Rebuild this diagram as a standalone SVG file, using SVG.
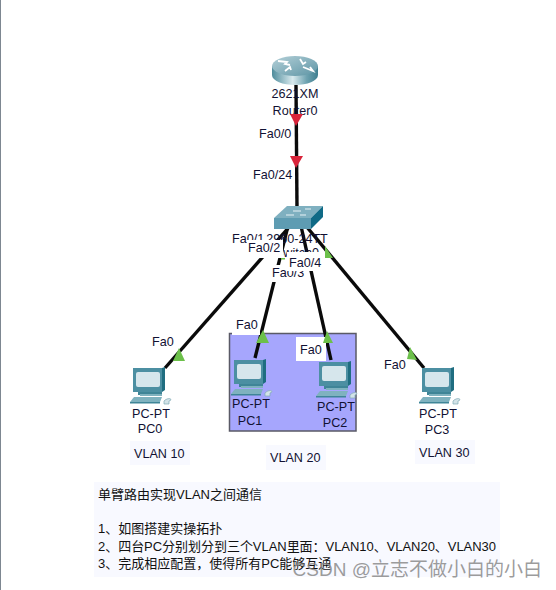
<svg xmlns="http://www.w3.org/2000/svg" width="556" height="590" viewBox="0 0 556 590">
<style>
text{font-family:"Liberation Sans",Arial,"Noto Sans CJK SC",sans-serif;font-size:12.6px;fill:#111133}
.p{font-size:13px;fill:#111}
.pan{fill:#f8f9ff}
.lnk{stroke:#0a0a0a;stroke-width:3.4;fill:none}
.w{fill:#fff}
.red{fill:#d9243a}
.grn{fill:#6cc04a}
.m{text-anchor:middle}
</style>
<defs>
<linearGradient id="rs" x1="0" x2="1" y1="0" y2="0"><stop offset="0" stop-color="#4f8c9c"/><stop offset=".45" stop-color="#d9eaee"/><stop offset=".75" stop-color="#6fa3b1"/><stop offset="1" stop-color="#3f7f90"/></linearGradient>
<linearGradient id="rt" x1="0" x2="1" y1="0" y2="1"><stop offset="0" stop-color="#b4d0d8"/><stop offset="1" stop-color="#5e95a5"/></linearGradient>
<g id="pc">
<rect x="5" y="22" width="24" height="5" fill="#3f8597"/>
<rect x="0" y="0" width="29" height="24" fill="#4c8fa2"/>
<polygon points="29,0 32,-1 32,22 29,24" fill="#1f6d80"/>
<rect x="3" y="4" width="24" height="15" rx="2" fill="#d6e6ec"/>
<rect x="7" y="26" width="22" height="2" fill="#7fb2bf"/>
<polygon points="-3,34 1,29 29,29 27,34" fill="#7fb2bf"/>
<polygon points="-3,34 27,34 27,35.500 -3,35.500" fill="#3f8597"/>
<path d="M31 33c3-3 7-3 7-1l-2 1v3h-5z" fill="#d3e3e8" stroke="#7fa9b5" stroke-width=".7"/>
</g>
</defs>
<rect width="556" height="590" fill="#fff"/>
<rect x="0" y="0" width="1" height="590" fill="#7d8791"/>
<rect class="pan" x="130" y="441" width="60" height="24"/>
<rect class="pan" x="266" y="445" width="60" height="25"/>
<rect class="pan" x="415" y="440" width="60" height="24"/>
<rect class="pan" x="94" y="482" width="406" height="95"/>
<rect id="vlan20-area" x="229.500" y="333.500" width="126.500" height="97.500" fill="#a6a6fd" stroke="#5a5a66" stroke-width="1.500"/>
<g id="connectors">
<path class="lnk" d="M296 85L297 208"/>
<path class="lnk" d="M290 226L165 368"/>
<path class="lnk" d="M288 226L255 358"/>
<path class="lnk" d="M301 226L331 360"/>
<path class="lnk" d="M306 226L424 368"/>
</g>
<g id="Router0">
<path d="M272 66V75C272 81 283 85 295 85S318 81 318 75V66Z" fill="url(#rs)"/>
<ellipse cx="295" cy="66" rx="23" ry="10" fill="url(#rt)"/>
<path d="M278 61l9 1-2 2 5 1M285 71l5-4 1 3M300 59l3 5 3-2M303 67l10 4-3-4" fill="none" stroke="#fff" stroke-width="1.800"/>
<text class="m" x="295" y="98">2621XM</text>
<text class="m" x="295" y="115">Router0</text>
</g>
<g id="Switch0">
<polygon points="274,218 287,206 323,206 311,218" fill="#7fb0c0"/>
<rect x="274" y="218" width="37" height="11" fill="#5e9cb2"/>
<polygon points="311,218 323,206 323,217 311,229" fill="#0f6a86"/>
<path d="M286 215h8M293 211h8M305 209h6M300 215h6" stroke="#e8f2f5" stroke-width="1.200"/>
<text x="232" y="243">Fa0/1</text>
<text class="m" x="297" y="243">2960-24TT</text>
<text class="m" x="297" y="257">Switch0</text>
</g>
<g id="port-labels">
<text x="259" y="138">Fa0/0</text>
<text x="253" y="179">Fa0/24</text>
<polygon class="grn" points="325,246 333,258 325,258"/>
<rect class="grn" x="281" y="258" width="4" height="1.500"/>
<rect class="w" x="270" y="265" width="36" height="17"/>
<text x="272" y="277">Fa0/3</text>
<rect class="w" x="247" y="240" width="36" height="18"/>
<text x="248" y="252">Fa0/2</text>
<rect class="w" x="287" y="252" width="38" height="19"/>
<text x="289" y="267">Fa0/4</text>
<text x="152" y="346">Fa0</text>
<text x="384" y="369">Fa0</text>
<rect class="w" x="232" y="317" width="28" height="18"/>
<text x="236" y="329">Fa0</text>
<rect class="w" x="296" y="337" width="30" height="24"/>
<text x="300" y="354">Fa0</text>
</g>
<g id="link-markers">
<polygon class="red" points="290,114 303,114 296,126"/>
<polygon class="red" points="290,156 303,156 296,168"/>
<polygon class="grn" points="173,361 185,361 179,348"/>
<polygon class="grn" points="256,343 269,343 263,330"/>
<polygon class="grn" points="323,343 333,343 327,331"/>
<polygon class="grn" points="407,359 417,360 410,347"/>
</g>
<g id="PC0"><use href="#pc" x="133" y="368"/><text class="m" x="151" y="418">PC-PT</text><text class="m" x="150" y="433">PC0</text></g>
<g id="PC1"><use href="#pc" x="234" y="360"/><text class="m" x="251" y="408">PC-PT</text><text class="m" x="250" y="425">PC1</text></g>
<g id="PC2"><use href="#pc" x="319" y="362"/><text class="m" x="336" y="411">PC-PT</text><text class="m" x="335" y="427">PC2</text></g>
<g id="PC3"><use href="#pc" x="422" y="368"/><text class="m" x="438" y="418">PC-PT</text><text class="m" x="437" y="434">PC3</text></g>
<text x="134" y="458">VLAN 10</text>
<text x="270" y="462">VLAN 20</text>
<text x="419" y="457">VLAN 30</text>
<g id="notes">
<text class="p" x="98" y="499">单臂路由实现VLAN之间通信</text>
<text class="p" x="98" y="533">1、如图搭建实操拓扑</text>
<text class="p" x="98" y="551" textLength="398" lengthAdjust="spacing">2、四台PC分别划分到三个VLAN里面：VLAN10、VLAN20、VLAN30</text>
<text class="p" x="98" y="568">3、完成相应配置，使得所有PC能够互通</text>
</g>
<text x="542" y="576" text-anchor="end" style="font-size:19px;fill:#8a8a8a;fill-opacity:.85">CSDN @立志不做小白的小白</text>
</svg>
